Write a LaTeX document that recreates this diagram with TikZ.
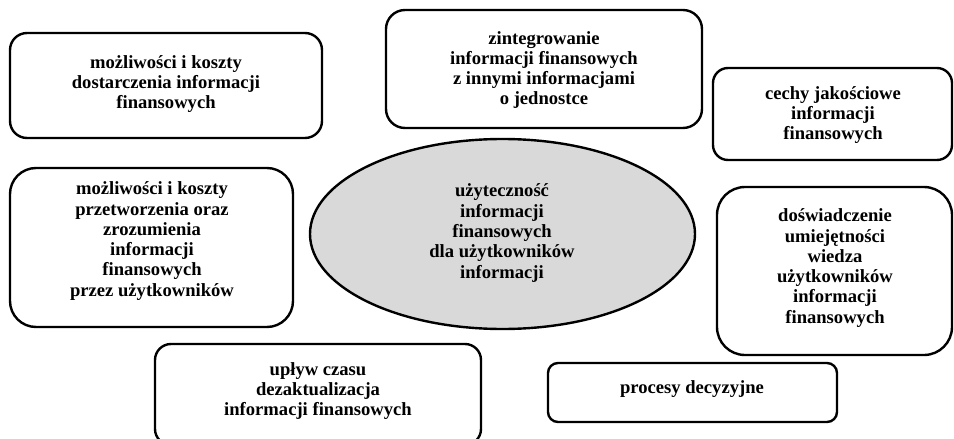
\documentclass[tikz,border=0pt]{standalone}
\usepackage{fontspec}
\setmainfont{Liberation Serif}
\usetikzlibrary{shapes.geometric}
\definecolor{ellgray}{RGB}{217,217,217}
\tikzset{
  rbox/.style={draw=black, line width=2.4pt, rectangle, inner sep=0pt},
  txt/.style={align=center, inner sep=0pt, font=\fontsize{18.6pt}{20.3pt}\selectfont\bfseries},
  ellbox/.style={draw=black, line width=2.4pt, ellipse, fill=ellgray, inner sep=0pt}
}
\begin{document}
\begin{tikzpicture}[x=1pt,y=-1pt]
\useasboundingbox (0,0) rectangle (954,439);
\clip (0,0) rectangle (954,439);
% boxes
\node[rbox, rounded corners=17pt, minimum width=312pt, minimum height=105pt] (b1) at (166,85.5) {};
\node[rbox, rounded corners=19pt, minimum width=316pt, minimum height=118pt] (b2) at (544,69) {};
\node[rbox, rounded corners=15pt, minimum width=239pt, minimum height=92pt] (b3) at (832.5,114) {};
\node[rbox, rounded corners=26pt, minimum width=283pt, minimum height=159pt] (b4) at (151.5,247.5) {};
\node[rbox, rounded corners=16pt, minimum width=326pt, minimum height=101pt] (b5) at (318,394.5) {};
\node[rbox, rounded corners=28pt, minimum width=235pt, minimum height=168pt] (b6) at (834.5,271) {};
\node[rbox, rounded corners=10pt, minimum width=289pt, minimum height=59pt] (b7) at (692.5,392.5) {};
\node[ellbox, minimum width=385pt, minimum height=190pt] (e) at (502.5,234) {};
% texts
\node[txt] (t1) at (166,84) {możliwości i koszty\\dostarczenia informacji\\finansowych};
\node[txt] (t2) at (544,70) {zintegrowanie\\informacji finansowych\\z innymi informacjami\\o jednostce};
\node[txt] (t3) at (833,115) {cechy jakościowe\\informacji\\finansowych};
\node[txt] (t4) at (152,241) {możliwości i koszty\\przetworzenia oraz\\zrozumienia\\informacji\\finansowych\\przez użytkowników};
\node[txt] (t5) at (318,391) {upływ czasu\\dezaktualizacja\\informacji finansowych};
\node[txt] (t6) at (835,268) {doświadczenie\\umiejętności\\wiedza\\użytkowników\\informacji\\finansowych};
\node[txt] (t7) at (692,389) {procesy decyzyjne};
\node[txt] (te) at (502,233) {użyteczność\\informacji\\finansowych\\dla użytkowników\\informacji};
\end{tikzpicture}
\end{document}
